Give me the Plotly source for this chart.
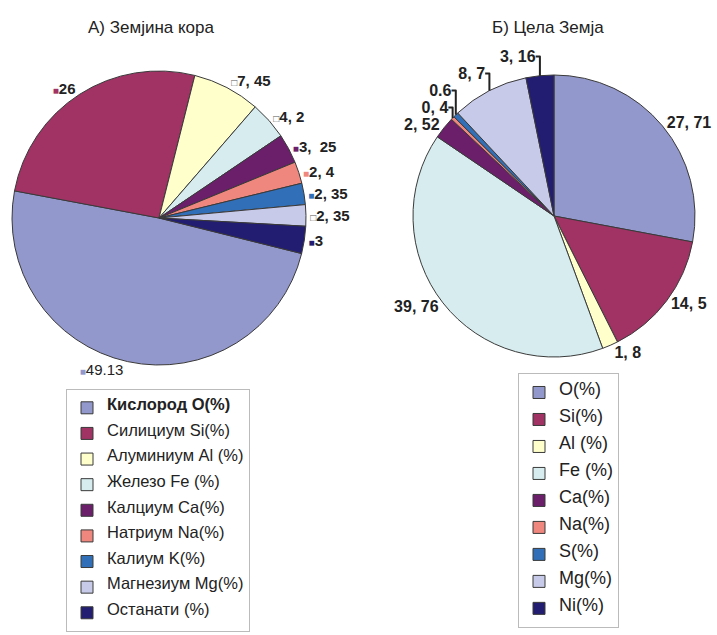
import plotly.graph_objects as go

# Earth's crust composition (mass %)
crust_names = ["Кислород O(%)", "Силициум Si(%)", "Алуминиум Al (%)", "Железо Fe (%)",
               "Калциум Ca(%)", "Натриум Na(%)", "Калиум K(%)", "Магнезиум Mg(%)",
               "Останати (%)"]
crust_values = [49.13, 26, 7.45, 4.2, 3.25, 2.4, 2.35, 2.35, 3]
crust_text = ["49.13", "26", "7, 45", "4, 2", "3,\u00a0 25", "2, 4", "2, 35", "2, 35", "3"]

# Whole Earth composition (mass %)
earth_names = ["O(%)", "Si(%)", "Al (%)", "Fe (%)", "Ca(%)", "Na(%)", "S(%)", "Mg(%)", "Ni(%)"]
earth_values = [27.71, 14.5, 1.8, 39.76, 2.52, 0.4, 0.6, 8.7, 3.16]
earth_text = ["27, 71", "14, 5", "1, 8", "39, 76", "2, 52", "0, 4", "0.6", "8, 7", "3, 16"]

colors = ["#9398CC", "#A03264", "#FFFFCC", "#D6ECEE", "#6B1F6B",
          "#F0877E", "#3170B8", "#C8CAEA", "#221D70"]
light = {"#FFFFCC", "#D6ECEE", "#C8CAEA"}

FONT = "Liberation Sans, Arial, sans-serif"


def legend_entry(name, size, bold=False):
    # blank lines above and below widen the row spacing of the legend
    body = f"<b>{name}</b>" if bold else name
    return f" <br><span style='font-size:{size}px'>{body}</span><br> "


def crust_label(txt, col, bold=True):
    # small colour key in front of each value
    if col in light:
        mark = "<span style='font-size:10px;color:#555555'>□</span>"
    else:
        mark = f"<span style='font-size:10px;color:{col}'>■</span>"
    return mark + (f"<b>{txt}</b>" if bold else txt)


crust_display = [crust_label(t, c, bold=(i != 0)) for i, (t, c) in enumerate(zip(crust_text, colors))]
crust_legend = [legend_entry(n, 16.5, bold=(i == 0)) for i, n in enumerate(crust_names)]
earth_legend = [legend_entry(n, 18) for n in earth_names]
earth_display = [f"<b>{t}</b>" for t in earth_text]

W, H = 717, 635

fig = go.Figure()
fig.add_trace(go.Pie(
    labels=crust_legend, values=crust_values, text=crust_display,
    textinfo="text", textposition="outside", sort=False, direction="clockwise",
    rotation=104,
    marker=dict(colors=colors, line=dict(color="#3a3a3a", width=1)),
    outsidetextfont=dict(family=FONT, size=15, color="#222222"),
    domain=dict(x=[12 / W, 306 / W], y=[1 - 365 / H, 1 - 71 / H]),
    legend="legend", automargin=False, hoverinfo="value",
))
fig.add_trace(go.Pie(
    labels=earth_legend, values=earth_values, text=earth_display,
    textinfo="text", textposition="outside", sort=False, direction="clockwise",
    rotation=0,
    marker=dict(colors=colors, line=dict(color="#3a3a3a", width=1)),
    outsidetextfont=dict(family=FONT, size=16, color="#222222"),
    domain=dict(x=[413 / W, 695 / W], y=[1 - 357 / H, 1 - 75 / H]),
    legend="legend2", automargin=False, hoverinfo="value",
))

fig.update_layout(
    width=W, height=H,
    margin=dict(l=0, r=0, t=0, b=0),
    paper_bgcolor="white", plot_bgcolor="white",
    font=dict(family=FONT, color="#222222"),
    showlegend=True,
    legend=dict(x=66 / W, y=1 - 389 / H, xanchor="left", yanchor="top",
                bgcolor="white", bordercolor="#BBBBBB", borderwidth=1,
                font=dict(family=FONT, size=5.8, color="#222222")),
    legend2=dict(x=518 / W, y=1 - 373 / H, xanchor="left", yanchor="top",
                 bgcolor="white", bordercolor="#BBBBBB", borderwidth=1,
                 font=dict(family=FONT, size=6.15, color="#222222")),
    annotations=[
        dict(text="А) Земјина кора", x=151 / W, y=1 - 27 / H, xref="paper", yref="paper",
             xanchor="center", yanchor="middle", showarrow=False,
             font=dict(family=FONT, size=17, color="#222222")),
        dict(text="Б) Цела Земја", x=548 / W, y=1 - 27 / H, xref="paper", yref="paper",
             xanchor="center", yanchor="middle", showarrow=False,
             font=dict(family=FONT, size=17, color="#222222")),
    ],
)

fig.write_html("out.html")
